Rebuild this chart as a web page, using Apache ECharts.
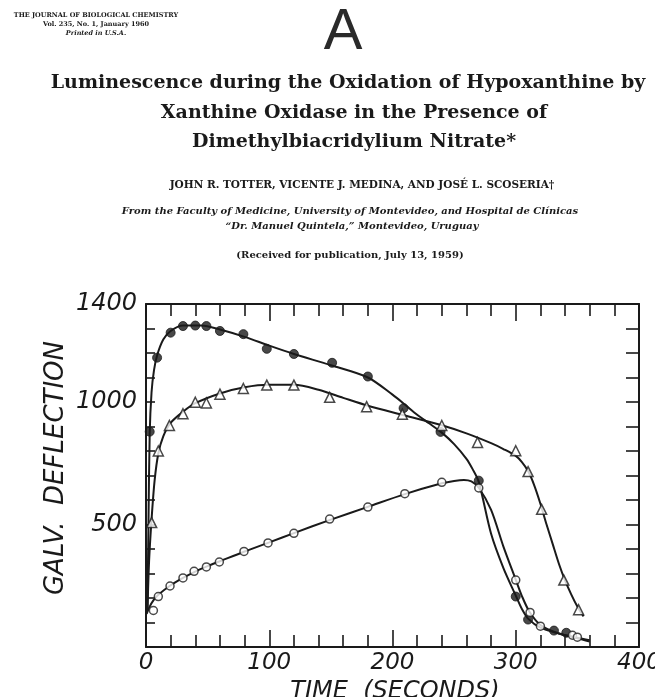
<!DOCTYPE html>
<html>
<head>
<meta charset="utf-8">
<script src="https://cdn.jsdelivr.net/npm/echarts@6/dist/echarts.min.js"></script>
<style>
html,body{margin:0;padding:0;background:#fff;}
#chart{width:655px;height:697px;}
</style>
</head>
<body>
<div id="chart"></div>
<script>
// ---- data ----
const xTickLabels = [0, 100, 200, 300, 400];
const yTickLabels = [500, 1000, 1400];

// Filled circles (●)
const filledX = [3, 9, 20, 30, 40, 49, 60, 79, 98, 120, 151, 180, 209, 239, 270, 300, 310, 331, 341];
const filledY = [879, 1181, 1283, 1310, 1312, 1310, 1290, 1277, 1217, 1196, 1160, 1104, 975, 878, 679, 206, 112, 67, 58];
// Triangles (△)
const triX = [4.6, 10, 19, 30, 40, 49, 60, 79, 98, 120, 149, 179, 208, 240, 269, 300, 310, 321, 339, 351];
const triY = [508, 800, 904, 952, 999, 996, 1032, 1055, 1069, 1069, 1019, 981, 950, 904, 835, 801, 716, 562, 273, 152];
// Open circles (○)
const openX = [6, 10, 19.5, 30, 39, 49, 59.5, 79.5, 99, 120, 149, 180, 210, 240, 270, 300, 311.6, 320, 346, 350];
const openY = [149, 206, 249, 282, 309, 327, 347, 390, 425, 464, 522, 571, 626, 672, 649, 273, 141, 85, 48, 40];

// Drawn smooth curves
const filledCurveX = [1.2, 2, 3, 4.5, 6.5, 9, 14, 20, 30, 45, 60, 80, 100, 120, 150, 180, 200, 210, 220, 230, 240, 250, 260, 265, 270, 280, 290, 300, 305, 310, 320, 335, 350, 360];
const filledCurveY = [150, 500, 870, 1040, 1130, 1190, 1255, 1290, 1312, 1312, 1296, 1266, 1230, 1196, 1150, 1100, 1030, 990, 948, 912, 875, 828, 768, 726, 674, 462, 322, 210, 155, 116, 79, 55, 36, 22];
const triCurveX = [1.2, 2.5, 4.5, 7, 10, 14, 20, 30, 40, 60, 80, 100, 120, 140, 160, 180, 210, 240, 260, 280, 290, 300, 305, 310, 315, 320, 325, 330, 335, 340, 345, 350, 355];
const triCurveY = [150, 350, 520, 680, 790, 860, 915, 960, 995, 1035, 1060, 1070, 1070, 1050, 1017, 985, 945, 905, 872, 832, 808, 780, 755, 718, 660, 585, 500, 420, 340, 272, 215, 165, 125];
const openCurveX = [0.5, 3, 6, 10, 20, 30, 40, 50, 60, 80, 100, 120, 150, 180, 210, 240, 250, 258, 264, 270, 280, 290, 300, 305, 311, 320, 335, 350, 360];
const openCurveY = [135, 165, 190, 213, 252, 282, 308, 330, 350, 390, 427, 465, 520, 572, 624, 668, 678, 682, 676, 650, 560, 410, 275, 208, 145, 90, 55, 38, 28];

const zip = (xs, ys) => xs.map((x, i) => [x, ys[i]]);

const chart = echarts.init(document.getElementById('chart'), null, {renderer: 'canvas'});

const axisFont = 'DejaVu Sans, sans-serif';
const serif = 'DejaVu Serif, Liberation Serif, serif';
const ink = '#1a1a1a';

function txt(x, y, text, font, extra, fill) {
  return Object.assign({
    type: 'text', x: x, y: y, silent: true,
    style: {text: text, font: font, fill: fill || ink, align: 'center', verticalAlign: 'middle',
            textAlign: 'center', textVerticalAlign: 'middle'}
  }, extra || {});
}

const tickStyle = {color: ink, width: 1.6};

const option = {
  backgroundColor: '#fff',
  animation: false,
  grid: {left: 146, right: 16, top: 304, bottom: 50, containLabel: false, outerBoundsMode: 'none'},
  xAxis: [
    {
      type: 'value', min: 0, max: 400, interval: 100, position: 'bottom',
      axisLine: {show: true, onZero: false, lineStyle: {color: ink, width: 2}},
      axisTick: {show: true, inside: true, length: 17, lineStyle: tickStyle},
      minorTick: {show: true, splitNumber: 5, length: 12, lineStyle: tickStyle},
      splitLine: {show: false},
      axisLabel: {
        show: true, margin: 5, color: ink,
        fontFamily: axisFont, fontStyle: 'italic', fontSize: 23,
        formatter: v => (xTickLabels.indexOf(v) >= 0 ? String(v) : '')
      }
    },
    {
      type: 'value', min: 0, max: 400, interval: 100, position: 'top',
      axisLine: {show: true, onZero: false, lineStyle: {color: ink, width: 2}},
      axisTick: {show: true, inside: true, length: 17, lineStyle: tickStyle},
      minorTick: {show: true, splitNumber: 5, length: 12, lineStyle: tickStyle},
      splitLine: {show: false},
      axisLabel: {show: false}
    }
  ],
  yAxis: [
    {
      type: 'value', min: 0, max: 1400, interval: 100, position: 'left',
      axisLine: {show: true, onZero: false, lineStyle: {color: ink, width: 2}},
      axisTick: {show: true, inside: true, length: 9, lineStyle: tickStyle},
      splitLine: {show: false},
      axisLabel: {
        show: true, margin: 9, color: ink,
        fontFamily: axisFont, fontStyle: 'italic', fontSize: 24,
        formatter: v => (yTickLabels.indexOf(v) >= 0 ? String(v) : '')
      }
    },
    {
      type: 'value', min: 0, max: 1400, interval: 100, position: 'right',
      axisLine: {show: true, onZero: false, lineStyle: {color: ink, width: 2}},
      axisTick: {show: true, inside: true, length: 13, lineStyle: tickStyle},
      splitLine: {show: false},
      axisLabel: {show: false}
    }
  ],
  series: [
    {type: 'line', data: zip(filledCurveX, filledCurveY), smooth: 0.3,
     showSymbol: false, symbol: 'none', lineStyle: {color: ink, width: 2}, silent: true, z: 2},
    {type: 'line', data: zip(triCurveX, triCurveY), smooth: 0.3,
     showSymbol: false, symbol: 'none', lineStyle: {color: ink, width: 2}, silent: true, z: 2},
    {type: 'line', data: zip(openCurveX, openCurveY), smooth: 0.3,
     showSymbol: false, symbol: 'none', lineStyle: {color: ink, width: 2}, silent: true, z: 2},
    {type: 'scatter', data: zip(filledX, filledY), symbol: 'circle', symbolSize: 9,
     itemStyle: {color: ink, borderColor: ink, borderWidth: 1}, z: 5},
    {type: 'scatter', data: zip(triX, triY), symbol: 'triangle', symbolSize: 10,
     itemStyle: {color: '#fff', borderColor: ink, borderWidth: 1.5}, z: 5},
    {type: 'scatter', data: zip(openX, openY), symbol: 'circle', symbolSize: 8,
     itemStyle: {color: '#fff', borderColor: ink, borderWidth: 1.5}, z: 5}
  ],
  graphic: [
    txt(96, 15, 'THE JOURNAL OF BIOLOGICAL CHEMISTRY', 'bold 6.5px ' + serif),
    txt(96, 24, 'Vol. 235, No. 1, January 1960', 'bold 6.5px ' + serif),
    txt(96, 33, 'Printed in U.S.A.', 'italic bold 6.5px ' + serif),
    txt(343, 33, 'A', '58px Liberation Sans, DejaVu Sans, sans-serif', null, '#2a2a2a'),
    txt(348, 83, 'Luminescence during the Oxidation of Hypoxanthine by', 'bold 19px ' + serif),
    txt(354, 113, 'Xanthine Oxidase in the Presence of', 'bold 19px ' + serif),
    txt(354, 142, 'Dimethylbiacridylium Nitrate*', 'bold 19px ' + serif),
    txt(362, 185, 'JOHN R. TOTTER, VICENTE J. MEDINA, AND JOSÉ L. SCOSERIA†', 'bold 10.5px ' + serif),
    txt(350, 211, 'From the Faculty of Medicine, University of Montevideo, and Hospital de Clínicas', 'italic bold 10px ' + serif),
    txt(352, 226, '“Dr. Manuel Quintela,” Montevideo, Uruguay', 'italic bold 10px ' + serif),
    txt(350, 255, '(Received for publication, July 13, 1959)', 'bold 10px ' + serif),
    txt(56, 468, 'GALV.  DEFLECTION', 'italic 26px ' + axisFont, {rotation: Math.PI / 2}),
    txt(395, 692, 'TIME  (SECONDS)', 'italic 24px ' + axisFont)
  ]
};
chart.setOption(option);
</script>
</body>
</html>
